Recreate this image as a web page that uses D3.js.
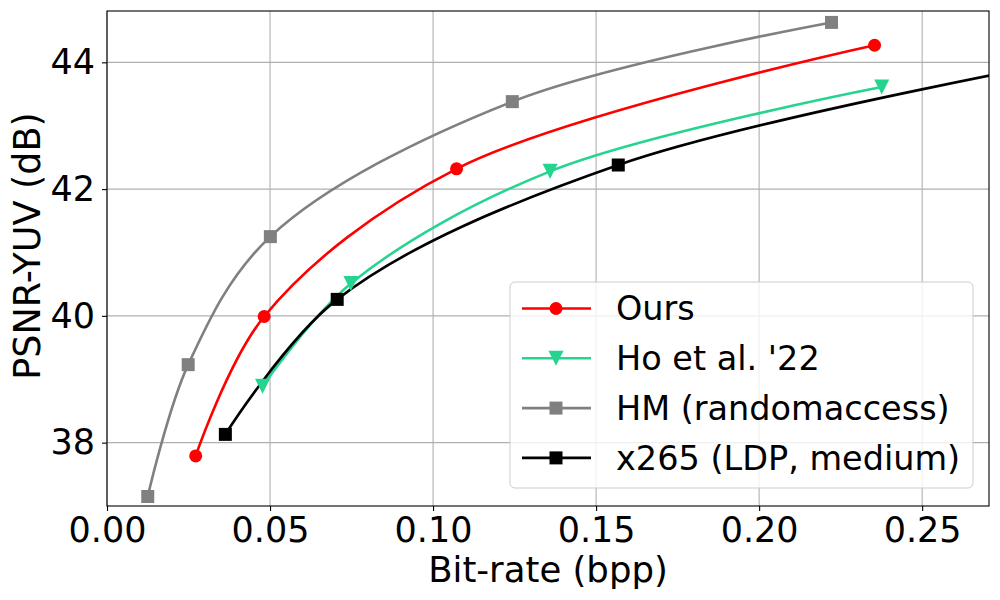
<!DOCTYPE html>
<html>
<head>
<meta charset="utf-8">
<script src="https://cdn.jsdelivr.net/npm/d3@7"></script>
<style>
  body { margin: 0; background: #fff; }
  text { font-family: "DejaVu Sans", sans-serif; fill: #000; }
</style>
</head>
<body>
<svg id="chart" width="1000" height="600"></svg>
<script>
// rate-distortion points
var oursRate = [0.0272, 0.0482, 0.1072, 0.2354];
var oursPsnr = [37.79, 39.99, 42.32, 44.27];
var hoRate = [0.0477, 0.0748, 0.1359, 0.2376];
var hoPsnr = [38.89, 40.51, 42.28, 43.61];
var hmRate = [0.0125, 0.0249, 0.0501, 0.1243, 0.2222];
var hmPsnr = [37.15, 39.23, 41.25, 43.38, 44.63];
var x265Rate = [0.0363, 0.0706, 0.1568, 0.31];
var x265Psnr = [38.13, 40.26, 42.38, 44.18];

var seriesNames = ["Ours", "Ho et al. '22", "HM (randomaccess)", "x265 (LDP, medium)"];
var seriesColors = ["#ff0000", "#25d48f", "#808080", "#000000"];
var seriesMarkers = ["circle", "triangle", "square", "square"];

var xTicks = [0.00, 0.05, 0.10, 0.15, 0.20, 0.25];
var yTicks = [38, 40, 42, 44];

var margin = { left: 107, right: 11, top: 11, bottom: 94 };
var width = 1000 - margin.left - margin.right;
var height = 600 - margin.top - margin.bottom;

var series = [
  { rate: oursRate, psnr: oursPsnr },
  { rate: hoRate, psnr: hoPsnr },
  { rate: hmRate, psnr: hmPsnr },
  { rate: x265Rate, psnr: x265Psnr }
].map(function(s, i) {
  return {
    name: seriesNames[i],
    color: seriesColors[i],
    marker: seriesMarkers[i],
    points: s.rate.map(function(r, j) { return { x: r, y: s.psnr[j] }; })
  };
});

var svg = d3.select('#chart');
var g = svg.append('g')
  .attr('transform', 'translate(' + margin.left + ',' + margin.top + ')');

var x = d3.scaleLinear().domain([0, 0.2705]).range([0, width]);
var y = d3.scaleLinear().domain([37.0, 44.81]).range([height, 0]);

g.append('defs').append('clipPath')
  .attr('id', 'plotclip')
  .append('rect')
    .attr('width', width)
    .attr('height', height);

// grid
g.append('g')
  .selectAll('line')
  .data(xTicks)
  .enter()
  .append('line')
    .attr('x1', function(d) { return x(d); })
    .attr('x2', function(d) { return x(d); })
    .attr('y1', 0)
    .attr('y2', height)
    .attr('stroke', '#b0b0b0')
    .attr('stroke-width', 1.1);

g.append('g')
  .selectAll('line')
  .data(yTicks)
  .enter()
  .append('line')
    .attr('x1', 0)
    .attr('x2', width)
    .attr('y1', function(d) { return y(d); })
    .attr('y2', function(d) { return y(d); })
    .attr('stroke', '#b0b0b0')
    .attr('stroke-width', 1.1);

// curves
var line = d3.line()
  .x(function(d) { return x(d.x); })
  .y(function(d) { return y(d.y); })
  .curve(d3.curveCatmullRom.alpha(0.5));

var plot = g.append('g').attr('clip-path', 'url(#plotclip)');

plot.selectAll('path.curve')
  .data(series)
  .enter()
  .append('path')
    .attr('class', 'curve')
    .attr('d', function(d) { return line(d.points); })
    .attr('fill', 'none')
    .attr('stroke', function(d) { return d.color; })
    .attr('stroke-width', 2.6);

function drawMarker(sel, kind, color, size) {
  if (kind === 'circle') {
    sel.append('circle').attr('r', size / 2).attr('fill', color);
  } else if (kind === 'square') {
    sel.append('rect')
      .attr('x', -size / 2).attr('y', -size / 2)
      .attr('width', size).attr('height', size)
      .attr('fill', color);
  } else {
    var h = size * 0.58;
    sel.append('path')
      .attr('d', 'M' + (-h) + ',' + (-h) + 'L' + h + ',' + (-h) + 'L0,' + h + 'Z')
      .attr('fill', color);
  }
}

series.forEach(function(s) {
  var m = plot.append('g')
    .selectAll('g')
    .data(s.points)
    .enter()
    .append('g')
      .attr('transform', function(d) { return 'translate(' + x(d.x) + ',' + y(d.y) + ')'; });
  m.each(function() { drawMarker(d3.select(this), s.marker, s.color, 13); });
});

// axes
var xAxis = d3.axisBottom(x)
  .tickValues(xTicks)
  .tickFormat(d3.format('.2f'))
  .tickSize(5)
  .tickPadding(6);
var yAxis = d3.axisLeft(y)
  .tickValues(yTicks)
  .tickFormat(d3.format('d'))
  .tickSize(5)
  .tickPadding(7);

var gx = g.append('g').attr('transform', 'translate(0,' + height + ')').call(xAxis);
var gy = g.append('g').call(yAxis);
[gx, gy].forEach(function(a) {
  a.select('.domain').remove();
  a.selectAll('line').attr('stroke', '#000').attr('stroke-width', 1.1);
  a.selectAll('text').style('font-family', '"DejaVu Sans", sans-serif').style('font-size', '35px').attr('fill', '#000');
});

g.append('rect')
  .attr('width', width)
  .attr('height', height)
  .attr('fill', 'none')
  .attr('stroke', '#000')
  .attr('stroke-width', 1.1);

// axis labels
svg.append('text')
  .attr('x', margin.left + width / 2)
  .attr('y', 582)
  .attr('text-anchor', 'middle')
  .style('font-size', '35.5px')
  .text('Bit-rate (bpp)');

svg.append('text')
  .attr('transform', 'translate(40,246) rotate(-90)')
  .attr('text-anchor', 'middle')
  .style('font-size', '36.5px')
  .text('PSNR-YUV (dB)');

// legend
var legend = svg.append('g').attr('transform', 'translate(510,282)');
legend.append('rect')
  .attr('width', 463)
  .attr('height', 206)
  .attr('rx', 5)
  .attr('fill', '#fff')
  .attr('fill-opacity', 0.8)
  .attr('stroke', '#cccccc')
  .attr('stroke-width', 1);

var rows = legend.selectAll('g.row')
  .data(series)
  .enter()
  .append('g')
    .attr('class', 'row')
    .attr('transform', function(d, i) { return 'translate(0,' + (26.5 + i * 49.8) + ')'; });

rows.append('line')
  .attr('x1', 12).attr('x2', 81)
  .attr('stroke', function(d) { return d.color; })
  .attr('stroke-width', 2.6);

rows.each(function(d) {
  var mk = d3.select(this).append('g').attr('transform', 'translate(46,0)');
  drawMarker(mk, d.marker, d.color, 13);
});

rows.append('text')
  .attr('x', 106)
  .attr('dy', '0.35em')
  .style('font-size', '33.5px')
  .text(function(d) { return d.name; });
</script>
</body>
</html>
